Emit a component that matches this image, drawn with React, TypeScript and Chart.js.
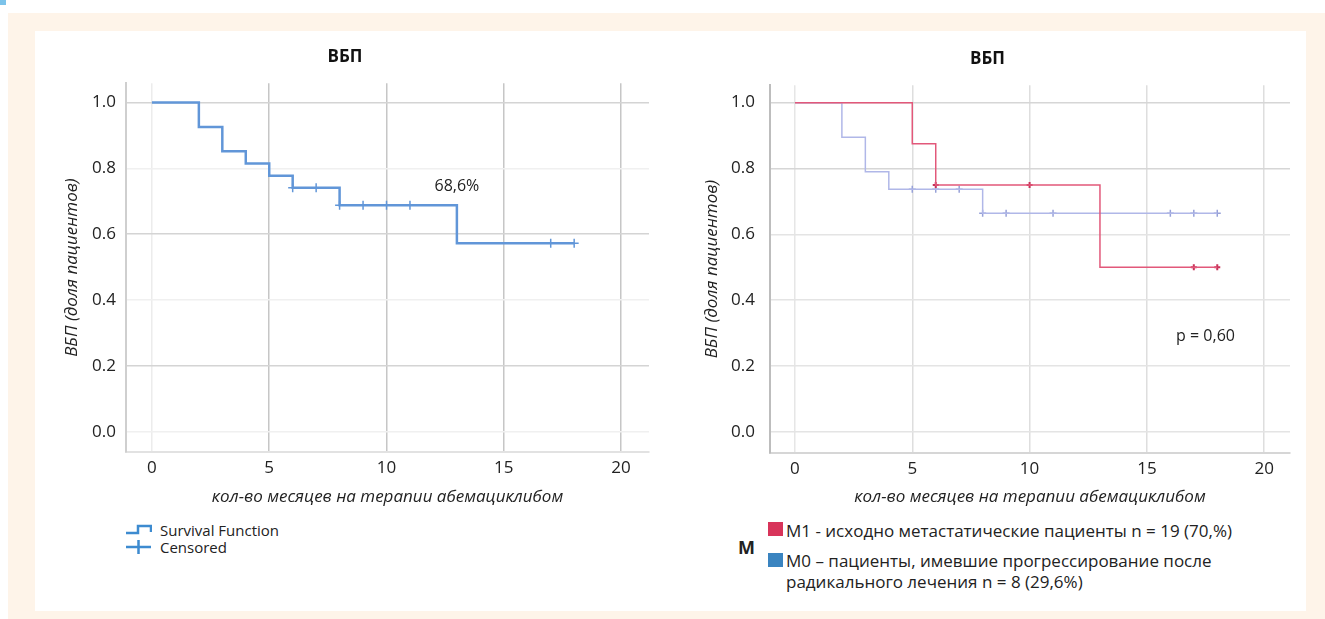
import React, { useEffect, useRef } from 'react';
import { Chart, registerables } from 'chart.js';

Chart.register(...registerables);

const FONT = '"Open Sans", "Noto Sans", sans-serif';

// ---- shared axis text ----
const chartTitle = 'ВБП';
const xAxisTitle = 'кол-во месяцев на терапии абемациклибом';
const yAxisTitle = 'ВБП (доля пациентов)';

// ---- left chart: overall PFS (Kaplan–Meier) ----
const allTimes = [0, 2, 3, 4, 5, 6, 8, 13, 18];
const allSurv = [1.0, 0.926, 0.852, 0.815, 0.778, 0.741, 0.688, 0.573, 0.573];
const allCensTimes = [6, 7, 8, 9, 10, 11, 17, 18];
const allCensSurv = [0.741, 0.741, 0.688, 0.688, 0.688, 0.688, 0.573, 0.573];
const allNote = '68,6%';
const allNoteAt = { x: 13, y: 0.745 };

// ---- right chart: by M status ----
const m1Times = [0, 5, 6, 13, 18];
const m1Surv = [1.0, 0.875, 0.75, 0.5, 0.5];
const m1CensTimes = [6, 10, 17, 18];
const m1CensSurv = [0.75, 0.75, 0.5, 0.5];
const m0Times = [0, 2, 3, 4, 8, 18];
const m0Surv = [1.0, 0.895, 0.79, 0.737, 0.664, 0.664];
const m0CensTimes = [5, 6, 7, 8, 9, 11, 16, 17, 18];
const m0CensSurv = [0.737, 0.737, 0.737, 0.664, 0.664, 0.664, 0.664, 0.664, 0.664];
const pNote = 'p = 0,60';
const pNoteAt = { x: 17.5, y: 0.29 };

const leftLegend = ['Survival Function', 'Censored'];
const rightLegendTitle = 'M';
const m1Label = 'M1 - исходно метастатические пациенты n = 19 (70,%)';
const m0Label1 = 'M0 – пациенты, имевшие прогрессирование после';
const m0Label2 = 'радикального лечения n = 8 (29,6%)';

const zip = (xs: number[], ys: number[]) => xs.map((x, i) => ({ x, y: ys[i] }));

function notePlugin(text: string, at: { x: number; y: number }) {
  return {
    id: 'note',
    afterDatasetsDraw(chart: any) {
      const { ctx, scales } = chart;
      ctx.save();
      ctx.font = `16px ${FONT}`;
      ctx.fillStyle = '#222';
      ctx.textAlign = 'center';
      ctx.textBaseline = 'middle';
      ctx.fillText(text, scales.x.getPixelForValue(at.x), scales.y.getPixelForValue(at.y));
      ctx.restore();
    },
  };
}

type Cfg = {
  xMin: number; xMax: number; yMin: number; yMax: number;
  titleTop: number; titleBottom: number;
  yTickPad: number; yTitlePad: number; xTitlePad: number;
  gridX: (v: number) => string; gridY: (v: number) => string;
  xBorder: string; yBorder: string;
};

function buildOptions(c: Cfg): any {
  return {
    responsive: false,
    animation: false,
    devicePixelRatio: 1,
    layout: { padding: { left: 0, right: 5, top: 0, bottom: 0 } },
    plugins: {
      legend: { display: false },
      tooltip: { enabled: false },
      title: {
        display: true,
        text: chartTitle,
        color: '#111',
        font: { family: FONT, size: 17, weight: 'bold' },
        padding: { top: c.titleTop, bottom: c.titleBottom },
      },
    },
    scales: {
      x: {
        type: 'linear',
        min: c.xMin,
        max: c.xMax,
        afterFit: (s: any) => { s.height = 60; },
        ticks: { stepSize: 5, includeBounds: false, padding: 6, maxRotation: 0, color: '#222', font: { family: FONT, size: 17 } },
        grid: { drawTicks: false, lineWidth: 1.5, color: (ctx: any) => c.gridX(ctx.tick ? ctx.tick.value : -1) },
        border: { color: c.xBorder, width: 2 },
        title: { display: true, text: xAxisTitle, color: '#222', font: { family: FONT, size: 17, style: 'italic' }, padding: { top: 0, bottom: c.xTitlePad } },
      },
      y: {
        type: 'linear',
        min: c.yMin,
        max: c.yMax,
        afterFit: (s: any) => { s.width = 86; },
        ticks: {
          stepSize: 0.2, includeBounds: false, padding: c.yTickPad, color: '#222',
          font: { family: FONT, size: 17 },
          callback: (v: any) => Number(v).toFixed(1),
        },
        grid: { drawTicks: false, lineWidth: 1.5, color: (ctx: any) => c.gridY(ctx.tick ? ctx.tick.value : -1) },
        border: { color: c.yBorder, width: 2 },
        title: { display: true, text: yAxisTitle, color: '#222', font: { family: FONT, size: 17, style: 'italic' }, padding: { top: c.yTitlePad, bottom: 0 } },
      },
    },
  };
}

function ChartCanvas({ left, top, width, height, make }: any) {
  const ref = useRef<HTMLCanvasElement | null>(null);
  useEffect(() => {
    if (!ref.current) return;
    const chart = new Chart(ref.current, make());
    return () => chart.destroy();
  }, []);
  return (
    <canvas
      ref={ref}
      width={width}
      height={height}
      style={{ position: 'absolute', left, top, width, height }}
    />
  );
}

const near = (a: number, b: number) => Math.abs(a - b) < 1e-6;

function makeLeft(): any {
  return {
    type: 'line',
    data: {
      datasets: [
        {
          label: leftLegend[0],
          data: zip(allTimes, allSurv),
          stepped: true,
          borderColor: '#6196d8',
          borderWidth: 2.5,
          pointRadius: 0,
          fill: false,
        },
        {
          label: leftLegend[1],
          data: zip(allCensTimes, allCensSurv),
          showLine: false,
          pointStyle: 'cross',
          pointRadius: 4.5,
          borderColor: '#6196d8',
          borderWidth: 1.5,
        },
      ],
    },
    options: buildOptions({
      xMin: -1.106, xMax: 21.19, yMin: -0.0617, yMax: 1.059,
      titleTop: 16.4, titleBottom: 15.4,
      yTickPad: 10, yTitlePad: 21.5, xTitlePad: 4.8,
      gridX: (v) => (near(v, 0) ? '#ececec' : '#c6c6c6'),
      gridY: (v) => (near(v, 1) || near(v, 0.6) || near(v, 0.2) ? '#d4d4d4' : '#f0f0f0'),
      xBorder: '#e2e2e2', yBorder: '#cfcfcf',
    }),
    plugins: [notePlugin(allNote, allNoteAt)],
  };
}

function makeRight(): any {
  return {
    type: 'line',
    data: {
      datasets: [
        {
          label: 'M1',
          data: zip(m1Times, m1Surv),
          stepped: true,
          borderColor: '#e2587a',
          borderWidth: 1.5,
          pointRadius: 0,
          fill: false,
        },
        {
          label: 'M1 censored',
          data: zip(m1CensTimes, m1CensSurv),
          showLine: false,
          pointStyle: 'cross',
          pointRadius: 3,
          borderColor: '#c8335a',
          borderWidth: 2,
        },
        {
          label: 'M0',
          data: zip(m0Times, m0Surv),
          stepped: true,
          borderColor: '#b0b7e8',
          borderWidth: 1.5,
          pointRadius: 0,
          fill: false,
        },
        {
          label: 'M0 censored',
          data: zip(m0CensTimes, m0CensSurv),
          showLine: false,
          pointStyle: 'cross',
          pointRadius: 3.5,
          borderColor: '#97a1d8',
          borderWidth: 1.5,
        },
      ],
    },
    options: buildOptions({
      xMin: -1.064, xMax: 21.1, yMin: -0.0647, yMax: 1.053,
      titleTop: 17.8, titleBottom: 16,
      yTickPad: 15, yTitlePad: 17.5, xTitlePad: 5.8,
      gridX: (v) => (near(v, 0) ? '#e6e6e6' : '#dedede'),
      gridY: (v) => (near(v, 1) || near(v, 0.8) ? '#d6d6d6' : '#e4e4e4'),
      xBorder: '#d6d6d6', yBorder: '#bdbdbd',
    }),
    plugins: [notePlugin(pNote, pNoteAt)],
  };
}

const textStyle: React.CSSProperties = {
  position: 'absolute',
  fontFamily: FONT,
  fontSize: 15,
  color: '#222',
  whiteSpace: 'nowrap',
  lineHeight: '20px',
  height: 20,
};

const rightText: React.CSSProperties = { ...textStyle, fontSize: 17 };

export default function App() {
  return (
    <div style={{ position: 'absolute', left: 0, top: 0, width: 1325, height: 619, background: '#fff', overflow: 'hidden' }}>
      <div style={{ position: 'absolute', left: 0, top: 0, width: 6, height: 5, background: '#7cc3ea' }} />
      <div style={{ position: 'absolute', left: 8, top: 13, width: 1317, height: 606, background: '#fef4e9' }} />
      <div style={{ position: 'absolute', left: 35, top: 31, width: 1271, height: 580, background: '#ffffff' }} />

      <ChartCanvas left={40} top={31} width={615} height={481} make={makeLeft} />
      <ChartCanvas left={684} top={31} width={612} height={482} make={makeRight} />

      {/* left legend */}
      <svg style={{ position: 'absolute', left: 126, top: 522 }} width={26} height={16}>
        <path d="M0 11 H12 V4 H25 V10" stroke="#3d8bd0" strokeWidth={2.5} fill="none" />
      </svg>
      <div style={{ ...textStyle, left: 160, top: 520 }}>{leftLegend[0]}</div>
      <svg style={{ position: 'absolute', left: 126, top: 539 }} width={26} height={16}>
        <path d="M0 8 H25 M12.5 1 V15" stroke="#3d8bd0" strokeWidth={2.5} fill="none" />
      </svg>
      <div style={{ ...textStyle, left: 160, top: 537 }}>{leftLegend[1]}</div>

      {/* right legend */}
      <div style={{ ...textStyle, left: 738, top: 537, fontWeight: 'bold', fontSize: 18 }}>{rightLegendTitle}</div>
      <div style={{ position: 'absolute', left: 768, top: 522, width: 15, height: 14, background: '#d8345a' }} />
      <div style={{ ...rightText, left: 786, top: 521 }}>{m1Label}</div>
      <div style={{ position: 'absolute', left: 768, top: 553, width: 15, height: 14, background: '#3a84c0' }} />
      <div style={{ ...rightText, left: 786, top: 551 }}>{m0Label1}</div>
      <div style={{ ...rightText, left: 786, top: 572 }}>{m0Label2}</div>
    </div>
  );
}
